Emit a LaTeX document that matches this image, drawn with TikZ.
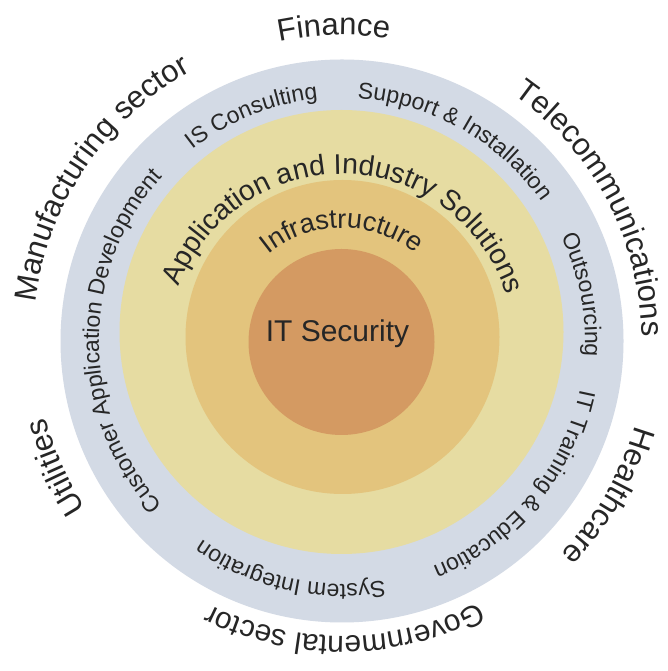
\documentclass[tikz,border=0pt]{standalone}
\usepackage{fontspec}
\setmainfont{Liberation Sans}
\usetikzlibrary{decorations.text}
\definecolor{ringblue}{RGB}{211,218,229}
\definecolor{ringlight}{RGB}{230,220,162}
\definecolor{ringmid}{RGB}{227,196,125}
\definecolor{ringcore}{RGB}{212,154,98}
\definecolor{txt}{RGB}{38,38,38}
\newcommand\arclabel[5]{%
  \path[decorate,decoration={text along path,text align=center,text color=txt,
    text={|\fontsize{#4}{#4}\selectfont|#5}}]
    #1 ++({#3+85}:#2) arc[start angle={#3+85}, end angle={#3-85}, radius=#2];}
\tikzset{
  disc/.style={circle, inner sep=0pt, draw=none}
}
\begin{document}
\begin{tikzpicture}[x=1pt,y=1pt]
\useasboundingbox (0,0) rectangle (668,671);
\fill[white] (0,0) rectangle (668,671);
\node[disc, fill=ringblue, minimum size=563pt] (outer) at (342,330) {};
\node[disc, fill=ringlight, minimum size=444pt] (apps) at (341.5,339) {};
\node[disc, fill=ringmid, minimum size=314pt] (infra) at (342.5,334) {};
\node[disc, fill=ringcore, minimum size=186pt] (core) at (341.5,329) {};
\node[text=txt, font=\fontsize{30}{30}\selectfont] (sec) at (337.5,337) {IT Security};
% outer sectors
\arclabel{(342,330)}{306}{91.5}{31}{Finance}
\arclabel{(342,330)}{309}{146}{31}{Manufacturing sector}
\arclabel{(342,330)}{300}{28}{31}{Telecommunications}
\arclabel{(342,330)}{305}{-30.2}{31}{Healthcare}
\arclabel{(342,330)}{295}{-89.4}{30}{Governmental sector}
\arclabel{(342,330)}{306}{203.8}{31}{Utilities}
% services ring
\arclabel{(342,330)}{243}{111.8}{23}{IS Consulting}
\arclabel{(342,330)}{243}{60.6}{23}{Support {\&} Installation}
\arclabel{(342,330)}{243}{10.9}{23}{Outsourcing}
\arclabel{(342,330)}{243}{-39.8}{23}{IT Training {\&} Education}
\arclabel{(342,330)}{243}{-102.6}{23}{System Integration}
\arclabel{(342,330)}{243}{180}{23}{Customer Application Development}
% inner rings
\arclabel{(341.5,324)}{173}{88.6}{28.5}{Application and Industry Solutions}
\arclabel{(342.5,326)}{117}{90.3}{27}{Infrastructure}
\end{tikzpicture}
\end{document}
